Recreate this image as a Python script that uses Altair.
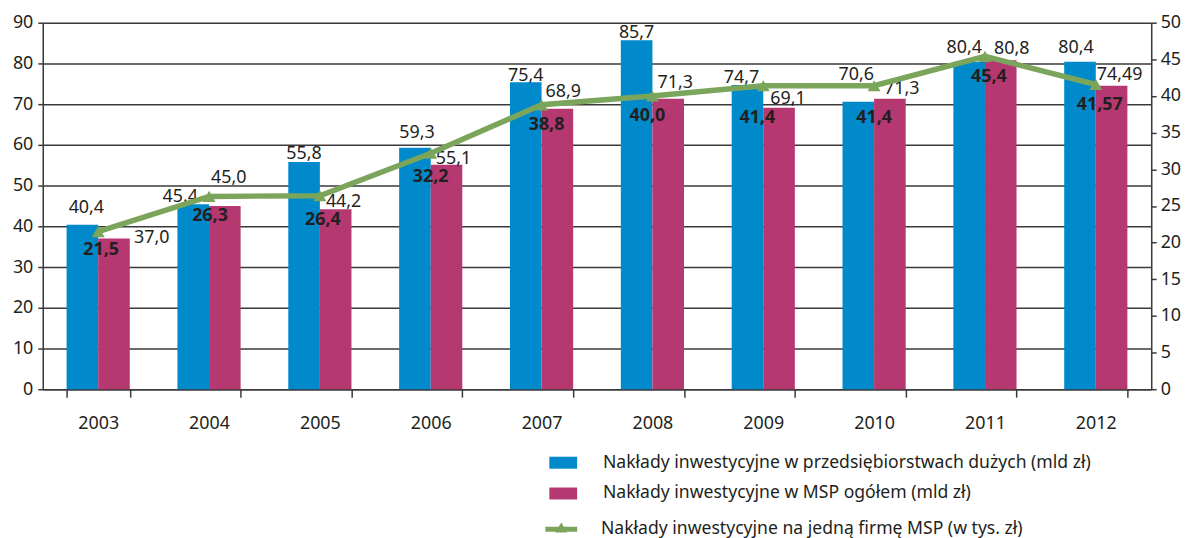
import altair as alt
import pandas as pd

years = ["2003", "2004", "2005", "2006", "2007", "2008", "2009", "2010", "2011", "2012"]
duze = [40.4, 45.4, 55.8, 59.3, 75.4, 85.7, 74.7, 70.6, 80.4, 80.4]
msp = [37.0, 45.0, 44.2, 55.1, 68.9, 71.3, 69.1, 71.3, 80.8, 74.49]
firma = [21.5, 26.3, 26.4, 32.2, 38.8, 40.0, 41.4, 41.4, 45.4, 41.57]

s_duze = "Nakłady inwestycyjne w przedsiębiorstwach dużych (mld zł)"
s_msp = "Nakłady inwestycyjne w MSP ogółem (mld zł)"
s_firma = "Nakłady inwestycyjne na jedną firmę MSP (w tys. zł)"

# label placement nudges (pixels), as in the original layout
lab_duze_dx = [4, -13, 0, 2, 0, 0, -6, -2, -5, -4]
lab_duze_gap = [12, 2, 3, 10, 1, 2, 2, 22, 9, 9]
lab_msp_dx = [38, 4, 8, 7, 6, 7, 9, 12, 11, 8]
lab_msp_gap = [-4, 23, 2, 1, 12, 11, 4, 5, 6, 6]
lab_firma_dx = [3, 1, 3, 0, 5, -5, -6, 0, 4, 4]
lab_firma_dy = [24, 25, 30, 29, 25, 25, 38, 38, 26, 26]

BLUE = "#0089cb"
MAG = "#b63871"
GREEN = "#7ba55a"
INK = "#231f20"
AXC = "#3a3a3a"
FONT = "Noto Sans"


def pl(v):
    s = f"{v:.2f}".rstrip("0")
    if s.endswith("."):
        s += "0"
    return s.replace(".", ",")


bars_df = pd.DataFrame({
    "rok": years * 2,
    "seria": [s_duze] * len(years) + [s_msp] * len(years),
    "wartosc": duze + msp,
})
bars_df["etykieta"] = bars_df["wartosc"].map(pl)

line_df = pd.DataFrame({"rok": years, "seria": [s_firma] * len(years), "wartosc": firma})
line_df["etykieta"] = line_df["wartosc"].map(pl)

x_enc = alt.X(
    "rok:N",
    title=None,
    scale=alt.Scale(paddingInner=0.43, paddingOuter=0.215),
    axis=alt.Axis(
        labelAngle=0, tickBand="extent", tickSize=8, labelPadding=18,
        domainColor=AXC, tickColor=AXC, domainWidth=1.5, tickWidth=1.5,
        labelFont=FONT, labelFontSize=18, labelColor=INK, grid=False,
    ),
)
x_off = alt.XOffset("seria:N", sort=[s_duze, s_msp], scale=alt.Scale(paddingInner=0, paddingOuter=0))

y_left = alt.Y(
    "wartosc:Q",
    scale=alt.Scale(domain=[0, 90], nice=False),
    axis=alt.Axis(
        orient="left", title=None, values=list(range(0, 91, 10)),
        grid=True, gridColor=AXC, gridWidth=1.5, tickSize=5, labelPadding=5,
        domainColor=AXC, tickColor=AXC, domainWidth=1.5, tickWidth=1.5,
        labelFont=FONT, labelFontSize=18, labelColor=INK,
    ),
)
y_right = alt.Y(
    "wartosc:Q",
    scale=alt.Scale(domain=[0, 50], nice=False),
    axis=alt.Axis(
        orient="right", title=None, values=list(range(0, 51, 5)),
        grid=False, tickSize=5, labelPadding=4,
        domainColor=AXC, tickColor=AXC, domainWidth=1.5, tickWidth=1.5,
        labelFont=FONT, labelFontSize=18, labelColor=INK,
    ),
)

base_bars = alt.Chart(bars_df)

bars = base_bars.mark_bar().encode(
    x=x_enc,
    xOffset=x_off,
    y=y_left,
    color=alt.Color(
        "seria:N",
        scale=alt.Scale(domain=[s_duze, s_msp], range=[BLUE, MAG]),
        legend=alt.Legend(
            title=None, orient="none", legendX=510, legendY=429,
            symbolType="M-1,-0.43L1,-0.43L1,0.43L-1,0.43Z", symbolSize=784,
            symbolStrokeWidth=0, labelOffset=26, rowPadding=8, padding=0,
            labelFont=FONT, labelFontSize=17.7, labelColor=INK, labelLimit=0,
        ),
    ),
)

bar_labels = []
for i, yr in enumerate(years):
    for ser, dxs, gaps in ((s_duze, lab_duze_dx, lab_duze_gap), (s_msp, lab_msp_dx, lab_msp_gap)):
        bar_labels.append(
            base_bars.transform_filter(
                (alt.datum.rok == yr) & (alt.datum.seria == ser)
            ).mark_text(
                baseline="alphabetic", dx=dxs[i], dy=-gaps[i],
                font=FONT, fontSize=18, color=INK,
            ).encode(x=x_enc, xOffset=x_off, y=y_left, text="etykieta:N")
        )

left = alt.layer(bars, *bar_labels)

base_line = alt.Chart(line_df)
line = base_line.mark_line(strokeWidth=5.5).encode(
    x=x_enc,
    y=y_right,
    stroke=alt.Stroke(
        "seria:N",
        scale=alt.Scale(domain=[s_firma], range=[GREEN]),
        legend=alt.Legend(
            title=None, orient="none", legendX=506, legendY=494,
            symbolType="M-1,-0.16L1,-0.16L1,0.16L-1,0.16Z M-0.38,0.2L0,-0.42L0.38,0.2Z",
            symbolSize=1024, symbolFillColor=GREEN, symbolStrokeColor=GREEN,
            symbolStrokeWidth=0, labelOffset=24, padding=0,
            labelFont=FONT, labelFontSize=17.7, labelColor=INK, labelLimit=0,
        ),
    ),
)
pts = base_line.mark_point(shape="triangle-up", filled=True, size=170, color=GREEN, opacity=1).encode(
    x=x_enc, y=y_right
)

line_labels = []
for i, yr in enumerate(years):
    line_labels.append(
        base_line.transform_filter(alt.datum.rok == yr).mark_text(
            baseline="alphabetic", dx=lab_firma_dx[i], dy=lab_firma_dy[i],
            font=FONT, fontSize=18, fontWeight="bold", color=INK,
        ).encode(x=x_enc, y=y_right, text="etykieta:N")
    )

right = alt.layer(line, pts, *line_labels)

chart = alt.layer(left, right).resolve_scale(y="independent").properties(
    width=1116, height=369,
    autosize=alt.AutoSizeParams(type="none"),
    padding={"left": 35, "top": 13, "right": 33, "bottom": 148},
).configure_view(stroke=None).configure(background="white")

chart.save("out.html", embed_options={"renderer": "svg", "actions": False})
